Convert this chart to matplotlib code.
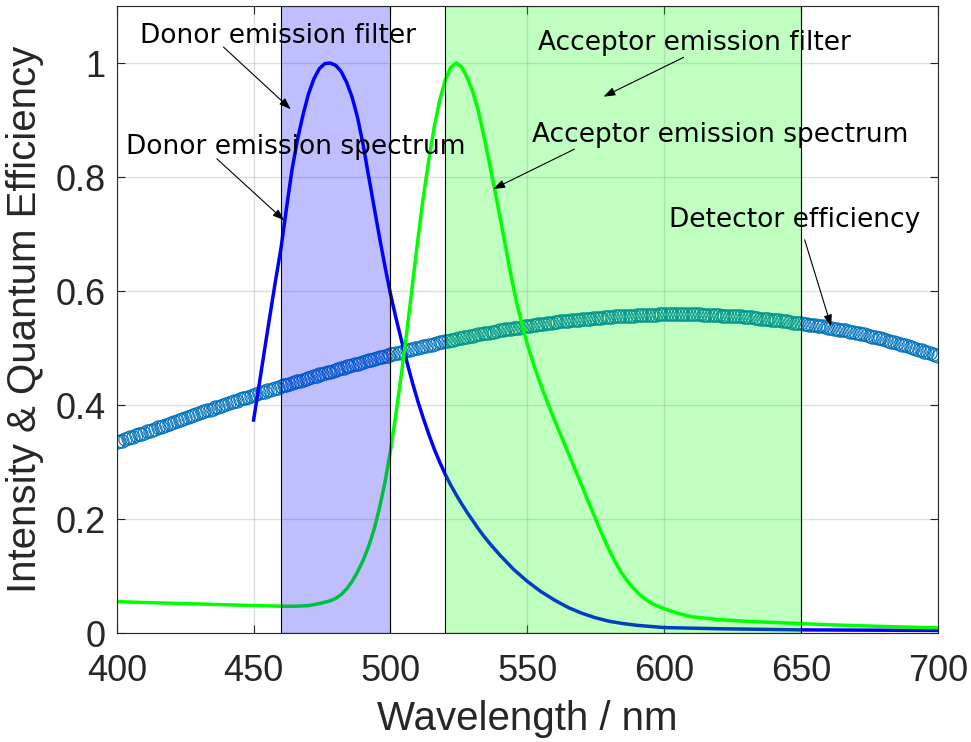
import numpy as np
import matplotlib
matplotlib.use("Agg")
import matplotlib.pyplot as plt

det_wl = list(range(400, 701))
det_qe = [
    0.335, 0.337, 0.338, 0.340, 0.342, 0.344, 0.345, 0.347, 0.349, 0.350,
    0.352, 0.354, 0.355, 0.357, 0.359, 0.361, 0.362, 0.364, 0.366, 0.367,
    0.369, 0.371, 0.372, 0.374, 0.376, 0.378, 0.379, 0.381, 0.383, 0.384,
    0.386, 0.388, 0.389, 0.391, 0.392, 0.394, 0.396, 0.397, 0.399, 0.400,
    0.402, 0.404, 0.405, 0.407, 0.408, 0.410, 0.412, 0.413, 0.415, 0.416,
    0.418, 0.419, 0.421, 0.423, 0.424, 0.426, 0.427, 0.428, 0.430, 0.431,
    0.433, 0.435, 0.436, 0.437, 0.439, 0.441, 0.442, 0.443, 0.445, 0.446,
    0.448, 0.449, 0.451, 0.452, 0.454, 0.455, 0.456, 0.458, 0.459, 0.460,
    0.462, 0.463, 0.465, 0.466, 0.468, 0.469, 0.470, 0.472, 0.473, 0.474,
    0.476, 0.477, 0.479, 0.480, 0.481, 0.482, 0.484, 0.485, 0.486, 0.487,
    0.489, 0.490, 0.491, 0.492, 0.494, 0.495, 0.496, 0.497, 0.499, 0.500,
    0.501, 0.502, 0.503, 0.504, 0.505, 0.506, 0.508, 0.509, 0.510, 0.511,
    0.512, 0.513, 0.514, 0.515, 0.516, 0.517, 0.518, 0.519, 0.520, 0.521,
    0.522, 0.523, 0.524, 0.525, 0.526, 0.526, 0.527, 0.528, 0.529, 0.530,
    0.531, 0.532, 0.533, 0.533, 0.534, 0.535, 0.536, 0.536, 0.537, 0.538,
    0.539, 0.539, 0.540, 0.541, 0.542, 0.542, 0.543, 0.544, 0.545, 0.545,
    0.546, 0.546, 0.547, 0.547, 0.548, 0.548, 0.549, 0.549, 0.550, 0.550,
    0.551, 0.551, 0.552, 0.552, 0.553, 0.553, 0.553, 0.553, 0.554, 0.554,
    0.555, 0.555, 0.556, 0.556, 0.556, 0.556, 0.557, 0.557, 0.557, 0.557,
    0.558, 0.558, 0.558, 0.558, 0.559, 0.559, 0.559, 0.559, 0.560, 0.560,
    0.560, 0.560, 0.560, 0.560, 0.560, 0.560, 0.560, 0.560, 0.560, 0.560,
    0.560, 0.560, 0.560, 0.560, 0.559, 0.559, 0.559, 0.559, 0.558, 0.558,
    0.558, 0.557, 0.557, 0.557, 0.557, 0.556, 0.556, 0.556, 0.556, 0.555,
    0.555, 0.554, 0.554, 0.553, 0.553, 0.552, 0.552, 0.551, 0.551, 0.550,
    0.550, 0.549, 0.549, 0.548, 0.548, 0.547, 0.546, 0.545, 0.545, 0.544,
    0.544, 0.543, 0.542, 0.541, 0.541, 0.540, 0.539, 0.538, 0.538, 0.537,
    0.536, 0.535, 0.534, 0.533, 0.532, 0.531, 0.531, 0.530, 0.529, 0.528,
    0.527, 0.526, 0.525, 0.524, 0.523, 0.521, 0.520, 0.519, 0.518, 0.517,
    0.516, 0.514, 0.513, 0.511, 0.510, 0.509, 0.508, 0.506, 0.505, 0.503,
    0.502, 0.500, 0.499, 0.497, 0.496, 0.494, 0.493, 0.491, 0.490, 0.488,
    0.487,
]

# --- Donor emission spectrum ---
don_wl = [450, 452, 454, 456, 458, 460, 462, 464, 466, 468, 470, 472, 474,
          476, 478, 480, 482, 484, 486, 488, 490, 492, 494, 496, 498, 500,
          502, 504, 506, 508, 510, 512, 514, 516, 518, 520, 522, 524, 526,
          528, 530, 532, 534, 536, 538, 540, 545, 550, 555, 560, 565, 570,
          575, 580, 585, 590, 600, 620, 650, 700]
don_int = [0.374, 0.435, 0.497, 0.558, 0.618, 0.675, 0.745, 0.812, 0.865,
           0.908, 0.945, 0.972, 0.990, 0.999, 1.000, 0.996, 0.985, 0.966,
           0.940, 0.904, 0.857, 0.802, 0.748, 0.694, 0.643, 0.595, 0.553,
           0.514, 0.476, 0.440, 0.407, 0.377, 0.349, 0.323, 0.300, 0.279,
           0.260, 0.243, 0.227, 0.212, 0.198, 0.184, 0.171, 0.159, 0.148,
           0.137, 0.112, 0.091, 0.073, 0.058, 0.045, 0.035, 0.027, 0.021,
           0.017, 0.014, 0.010, 0.008, 0.006, 0.005]

# --- Acceptor emission spectrum ---
acc_wl = [400, 410, 420, 430, 440, 450, 460, 465, 470, 474, 478, 480, 482,
          484, 486, 488, 490, 492, 494, 496, 498, 500, 502, 504, 506, 508,
          510, 512, 514, 516, 518, 520, 522, 524, 526, 528, 530, 532, 534,
          536, 538, 540, 542, 544, 546, 548, 550, 552, 554, 556, 558, 560,
          562, 564, 566, 568, 570, 572, 574, 576, 578, 580, 582, 584, 586,
          588, 590, 592, 594, 596, 598, 600, 605, 610, 620, 630, 640, 650,
          660, 680, 700]
acc_int = [0.0555, 0.0540, 0.0527, 0.0514, 0.0500, 0.0487, 0.0475, 0.0475,
           0.0485, 0.052, 0.057, 0.061, 0.068, 0.078, 0.091, 0.108, 0.128,
           0.152, 0.182, 0.220, 0.265, 0.320, 0.385, 0.455, 0.530, 0.610,
           0.690, 0.765, 0.830, 0.888, 0.935, 0.970, 0.992, 1.000, 0.993,
           0.975, 0.950, 0.918, 0.875, 0.828, 0.780, 0.730, 0.679, 0.628,
           0.582, 0.542, 0.507, 0.476, 0.448, 0.422, 0.397, 0.373, 0.350,
           0.327, 0.304, 0.281, 0.258, 0.234, 0.211, 0.188, 0.166, 0.145,
           0.126, 0.109, 0.095, 0.083, 0.073, 0.064, 0.057, 0.051, 0.047,
           0.043, 0.035, 0.029, 0.024, 0.021, 0.019, 0.017, 0.015, 0.012,
           0.0095]

# filter pass bands (nm)
donor_band = (460, 500)
acceptor_band = (520, 650)

x_ticks = [400, 450, 500, 550, 600, 650, 700]
y_ticks = [0, 0.2, 0.4, 0.6, 0.8, 1.0]
y_tick_labels = ["0", "0.2", "0.4", "0.6", "0.8", "1"]

# annotations: text, text anchor (left, centre), arrow tail, arrow head
notes = [
    ("Donor emission filter", (408.5, 1.047), (439.0, 1.028), (463.6, 0.919)),
    ("Donor emission spectrum", (403.4, 0.853), (436.6, 0.832), (461.2, 0.724)),
    ("Acceptor emission filter", (553.8, 1.035), (607.1, 1.010), (577.8, 0.941)),
    ("Acceptor emission spectrum", (551.6, 0.874), (567.2, 0.849), (537.5, 0.779)),
    ("Detector efficiency", (601.7, 0.725), (651.3, 0.690), (661.0, 0.538)),
]

gray = "#262626"

fig = plt.figure(figsize=(9.71, 7.42), dpi=100)
ax = fig.add_axes([0.1202, 0.1465, 0.8458, 0.8454])

ax.plot(det_wl, det_qe, "o", ms=9.5, mfc="none", mec="#0072BD", mew=0.8, zorder=2)
ax.plot(don_wl, don_int, color=(0, 0, 1), lw=2.5, zorder=2)
ax.plot(acc_wl, acc_int, color=(0, 1, 0), lw=2.5, zorder=2)

ax.axvspan(*donor_band, facecolor=(0, 0, 1, 0.25), edgecolor="k", lw=0.8, zorder=3)
ax.axvspan(*acceptor_band, facecolor=(0, 1, 0, 0.25), edgecolor="k", lw=0.8, zorder=3)

for txt, tpos, tail, head in notes:
    ax.text(tpos[0], tpos[1], txt, ha="left", va="center", fontsize=19,
            family="DejaVu Sans", color="k", zorder=6)
    ax.annotate("", xy=head, xytext=tail,
                arrowprops=dict(arrowstyle="-|>,head_length=0.7,head_width=0.25",
                                color="k", lw=0.8, shrinkA=0, shrinkB=0),
                zorder=6)

ax.set_xlim(400, 700)
ax.set_ylim(0, 1.1)
ax.set_xticks(x_ticks)
ax.set_yticks(y_ticks)
ax.set_yticklabels(y_tick_labels)

ax.grid(True, color=gray, alpha=0.15, lw=1.0)
ax.tick_params(direction="in", length=6, width=0.8, color=gray,
               top=True, right=True, labelsize=26, labelcolor=gray)
ax.tick_params(axis="x", pad=15)
ax.tick_params(axis="y", pad=8)
for lab in ax.get_xticklabels() + ax.get_yticklabels():
    lab.set_family("Liberation Sans")
for sp in ax.spines.values():
    sp.set_color(gray)
    sp.set_linewidth(0.8)
    sp.set_zorder(5)

ax.set_xlabel("Wavelength / nm", fontsize=29, family="Liberation Sans",
              color=gray, labelpad=8)
ax.set_ylabel("Intensity & Quantum Efficiency", fontsize=29,
              family="Liberation Sans", color=gray, labelpad=8)

fig.savefig("out.png", dpi=100)
